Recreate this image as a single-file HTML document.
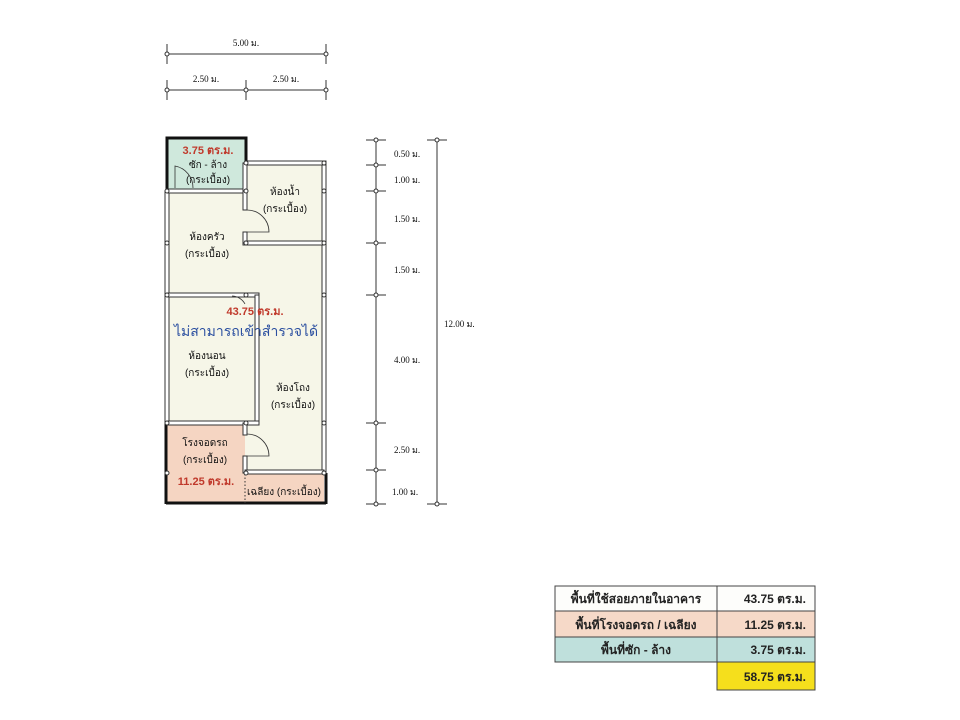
<!DOCTYPE html>
<html><head><meta charset="utf-8"><style>
body{margin:0;background:#fff;}
svg{display:block;font-family:"Liberation Sans","DejaVu Sans",sans-serif;}
.s{font-family:"Liberation Serif",serif;font-size:9px;fill:#111}
.t{font-size:10px;fill:#111}
.r{font-size:11px;fill:#c0392b;font-weight:bold}
</style></head><body>
<svg width="960" height="720" viewBox="0 0 960 720">
<!-- top dims -->
<g stroke="#333" stroke-width="1" fill="#fff">
<line x1="167" y1="54" x2="326" y2="54"/><line x1="167" y1="44" x2="167" y2="64"/><line x1="326" y1="44" x2="326" y2="64"/>
<circle cx="167" cy="54" r="2"/><circle cx="326" cy="54" r="2"/>
<line x1="167" y1="90" x2="326" y2="90"/><line x1="167" y1="80" x2="167" y2="100"/><line x1="246" y1="80" x2="246" y2="100"/><line x1="326" y1="80" x2="326" y2="100"/>
<circle cx="167" cy="90" r="2"/><circle cx="246" cy="90" r="2"/><circle cx="326" cy="90" r="2"/>
<!-- right dims -->
<line x1="376" y1="140" x2="376" y2="504"/>
<line x1="437" y1="140" x2="437" y2="504"/>
<line x1="427" y1="140" x2="447" y2="140"/><line x1="427" y1="504" x2="447" y2="504"/>
<circle cx="437" cy="140" r="2"/><circle cx="437" cy="504" r="2"/>
<g>
<line x1="366" y1="140" x2="386" y2="140"/><circle cx="376" cy="140" r="2"/>
<line x1="366" y1="165" x2="386" y2="165"/><circle cx="376" cy="165" r="2"/>
<line x1="366" y1="191" x2="386" y2="191"/><circle cx="376" cy="191" r="2"/>
<line x1="366" y1="243" x2="386" y2="243"/><circle cx="376" cy="243" r="2"/>
<line x1="366" y1="295" x2="386" y2="295"/><circle cx="376" cy="295" r="2"/>
<line x1="366" y1="423" x2="386" y2="423"/><circle cx="376" cy="423" r="2"/>
<line x1="366" y1="470" x2="386" y2="470"/><circle cx="376" cy="470" r="2"/>
<line x1="366" y1="504" x2="386" y2="504"/><circle cx="376" cy="504" r="2"/>
</g></g>
<text class="s" x="246" y="46" text-anchor="middle">5.00 ม.</text>
<text class="s" x="206" y="82" text-anchor="middle">2.50 ม.</text>
<text class="s" x="286" y="82" text-anchor="middle">2.50 ม.</text>
<g class="s"><text x="394" y="157">0.50 ม.</text><text x="394" y="183">1.00 ม.</text><text x="394" y="222">1.50 ม.</text><text x="394" y="273">1.50 ม.</text><text x="394" y="363">4.00 ม.</text><text x="394" y="453">2.50 ม.</text><text x="392" y="495">1.00 ม.</text><text x="444" y="327">12.00 ม.</text></g>
<!-- fills -->
<rect x="167" y="138" width="79" height="53" fill="#cfe8dc"/>
<rect x="167" y="163" width="157" height="260" fill="#f6f6e8"/>
<rect x="167" y="138" width="79" height="53" fill="#cfe8dc"/>
<rect x="167" y="423" width="78" height="80" fill="#f5d5c2"/>
<rect x="245" y="472" width="79" height="31" fill="#f5d5c2"/>
<rect x="245" y="423" width="79" height="49" fill="#f6f6e8"/>
<!-- walls -->
<g fill="#fff" stroke="#333" stroke-width="1">
<rect x="165" y="191" width="4" height="232"/>
<rect x="322" y="163" width="4" height="310"/>
<rect x="245" y="161" width="81" height="4"/>
<rect x="167" y="189" width="80" height="4"/>
<rect x="243" y="163" width="4" height="47"/>
<rect x="243" y="232" width="4" height="13"/>
<rect x="245" y="241" width="79" height="4"/>
<rect x="167" y="293" width="92" height="4"/>
<rect x="255" y="295" width="4" height="130"/>
<rect x="167" y="421" width="92" height="4"/>
<rect x="243" y="423" width="4" height="12"/>
<rect x="243" y="456" width="4" height="17"/>
<rect x="245" y="470" width="79" height="4"/>
</g>
<g stroke="#111" stroke-width="3" fill="none">
<polyline points="167,191 167,138 246,138 246,163"/>
<line x1="166" y1="423" x2="166" y2="504"/>
<line x1="166" y1="503" x2="326" y2="503"/>
<line x1="326" y1="473" x2="326" y2="504"/>
</g>
<line x1="245" y1="474" x2="245" y2="503" stroke="#333" stroke-dasharray="1.5,2"/>
<g fill="#fff" stroke="#333" stroke-width="1">
<circle cx="167" cy="191" r="2"/><circle cx="246" cy="191" r="2"/><circle cx="246" cy="163" r="2"/><circle cx="324" cy="163" r="2"/><circle cx="324" cy="191" r="2"/><circle cx="246" cy="243" r="2"/><circle cx="324" cy="243" r="2"/><circle cx="167" cy="243" r="2"/><circle cx="167" cy="295" r="2"/><circle cx="246" cy="295" r="2"/><circle cx="324" cy="295" r="2"/><circle cx="167" cy="423" r="2"/><circle cx="246" cy="423" r="2"/><circle cx="324" cy="423" r="2"/><circle cx="167" cy="473" r="2"/><circle cx="246" cy="473" r="2"/><circle cx="324" cy="473" r="2"/>
</g>
<!-- doors -->
<g fill="none" stroke="#333" stroke-width="0.8">
<path d="M175 188 L175 166 A22 22 0 0 1 193 188"/>
<path d="M247 210 A22 22 0 0 1 269 232 L247 232"/>
<path d="M232 296 A15 15 0 0 1 245 304"/>
<path d="M247 434 A22 22 0 0 1 269 456 L247 456"/>
</g>
<!-- labels -->
<text class="r" x="208" y="154" text-anchor="middle">3.75 ตร.ม.</text>
<text class="t" x="208" y="168" text-anchor="middle">ซัก - ล้าง</text>
<text class="t" x="208" y="183" text-anchor="middle">(กระเบื้อง)</text>
<text class="t" x="285" y="195" text-anchor="middle">ห้องน้ำ</text>
<text class="t" x="285" y="212" text-anchor="middle">(กระเบื้อง)</text>
<text class="t" x="207" y="240" text-anchor="middle">ห้องครัว</text>
<text class="t" x="207" y="257" text-anchor="middle">(กระเบื้อง)</text>
<text class="r" x="255" y="315" text-anchor="middle">43.75 ตร.ม.</text>
<text x="246" y="336" text-anchor="middle" style="font-size:14px;fill:#2b4fa0">ไม่สามารถเข้าสำรวจได้</text>
<text class="t" x="207" y="359" text-anchor="middle">ห้องนอน</text>
<text class="t" x="207" y="376" text-anchor="middle">(กระเบื้อง)</text>
<text class="t" x="293" y="391" text-anchor="middle">ห้องโถง</text>
<text class="t" x="293" y="408" text-anchor="middle">(กระเบื้อง)</text>
<text class="t" x="205" y="446" text-anchor="middle">โรงจอดรถ</text>
<text class="t" x="205" y="463" text-anchor="middle">(กระเบื้อง)</text>
<text class="r" x="206" y="485" text-anchor="middle">11.25 ตร.ม.</text>
<text class="t" x="284" y="495" text-anchor="middle">เฉลียง (กระเบื้อง)</text>
<!-- table -->
<g stroke="#444" stroke-width="1">
<rect x="555" y="586" width="162" height="25" fill="#fdfdfb"/><rect x="717" y="586" width="98" height="25" fill="#fdfdfb"/>
<rect x="555" y="611" width="162" height="26" fill="#f6d9c8"/><rect x="717" y="611" width="98" height="26" fill="#f6d9c8"/>
<rect x="555" y="637" width="162" height="25" fill="#bfe0dc"/><rect x="717" y="637" width="98" height="25" fill="#bfe0dc"/>
<rect x="717" y="662" width="98" height="28" fill="#f5df1c"/>
</g>
<g style="font-size:12px;font-weight:bold;fill:#222">
<text x="636" y="603" text-anchor="middle">พื้นที่ใช้สอยภายในอาคาร</text>
<text x="636" y="629" text-anchor="middle">พื้นที่โรงจอดรถ / เฉลียง</text>
<text x="636" y="654" text-anchor="middle">พื้นที่ซัก - ล้าง</text>
<text x="806" y="603" text-anchor="end">43.75 ตร.ม.</text>
<text x="806" y="629" text-anchor="end">11.25 ตร.ม.</text>
<text x="806" y="654" text-anchor="end">3.75 ตร.ม.</text>
<text x="806" y="681" text-anchor="end">58.75 ตร.ม.</text>
</g>
</svg>
</body></html>
